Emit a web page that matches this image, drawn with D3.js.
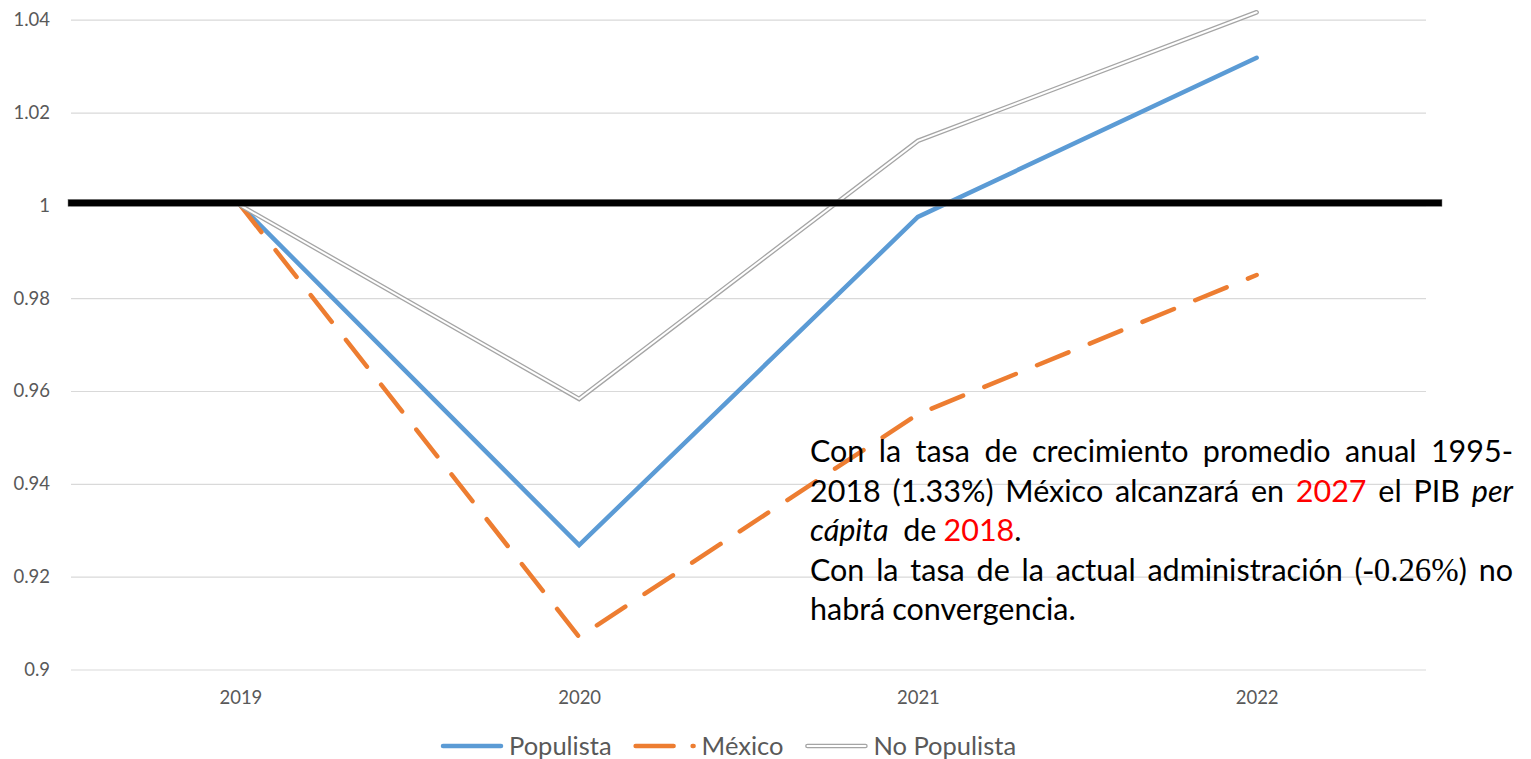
<!DOCTYPE html>
<html>
<head>
<meta charset="utf-8">
<script src="https://cdn.jsdelivr.net/npm/d3@7"></script>
<style>
  html, body { margin: 0; padding: 0; background: #fff; }
  svg { display: block; }
</style>
</head>
<body>
<svg id="chart" width="1531" height="759"></svg>
<script>
// PIB per cápita relativo a 2019 (índice, 2019 = 1)
const years = ["2019", "2020", "2021", "2022"];
const populista = [1, 0.9268, 0.9975, 1.0318];
const mexico = [1, 0.9070, 0.9550, 0.9850];
const noPopulista = [1, 0.9583, 1.0139, 1.0416];
const yTicks = [0.9, 0.92, 0.94, 0.96, 0.98, 1, 1.02, 1.04];
const yTickLabels = ["0.9", "0.92", "0.94", "0.96", "0.98", "1", "1.02", "1.04"];
const referenceLevel = 1;

const legendItems = [
  { name: "Populista", key: "pop" },
  { name: "México", key: "mex" },
  { name: "No Populista", key: "nopop" }
];

const colors = { pop: "#5B9BD5", mex: "#ED7D31", nopop: "#A5A5A5" };
const FONT = "Lato, 'Open Sans', sans-serif";

const svg = d3.select("#chart");
const plot = { left: 71, right: 1426, top: 19.7, bottom: 669.5 };

const x = d3.scalePoint().domain(years).range([plot.left, plot.right]).padding(0.5);
const y = d3.scaleLinear().domain([0.9, 1.04]).range([plot.bottom, plot.top]);

// Horizontal gridlines and value labels
const yAxis = svg.append("g")
  .attr("transform", `translate(${plot.left},0)`)
  .call(d3.axisLeft(y)
    .tickValues(yTicks)
    .tickFormat((d, i) => yTickLabels[i])
    .tickSize(-(plot.right - plot.left))
    .tickPadding(21));
yAxis.select(".domain").remove();
yAxis.selectAll(".tick line").attr("stroke", "#D9D9D9").attr("stroke-width", 1.2);
yAxis.selectAll(".tick text")
  .attr("fill", "#595959")
  .style("font-family", FONT)
  .style("font-size", "18.5px");

// Category labels
const xAxis = svg.append("g")
  .attr("transform", `translate(0,${plot.bottom})`)
  .call(d3.axisBottom(x).tickSize(0).tickPadding(21.5));
xAxis.select(".domain").remove();
xAxis.selectAll(".tick text")
  .attr("fill", "#595959")
  .style("font-family", FONT)
  .style("font-size", "18.5px");

const line = d3.line().x((d, i) => x(years[i])).y(d => y(d));

// Populista
svg.append("path")
  .attr("d", line(populista))
  .attr("fill", "none")
  .attr("stroke", colors.pop)
  .attr("stroke-width", 4.5)
  .attr("stroke-linecap", "round")
  .attr("stroke-linejoin", "miter");

// México (long dash)
svg.append("path")
  .attr("d", line(mexico))
  .attr("fill", "none")
  .attr("stroke", colors.mex)
  .attr("stroke-width", 4.5)
  .attr("stroke-linecap", "round")
  .attr("stroke-linejoin", "round")
  .attr("stroke-dasharray", "34,23");

// No Populista (double line)
function doubleLine(sel, d) {
  sel.append("path").attr("d", d).attr("fill", "none")
    .attr("stroke", colors.nopop).attr("stroke-width", 4.6)
    .attr("stroke-linejoin", "miter").attr("stroke-linecap", "round");
  sel.append("path").attr("d", d).attr("fill", "none")
    .attr("stroke", "#fff").attr("stroke-width", 2)
    .attr("stroke-linejoin", "miter").attr("stroke-linecap", "round");
}
doubleLine(svg.append("g"), line(noPopulista));

// Reference level at 1
svg.append("rect")
  .attr("x", plot.left - 3)
  .attr("y", y(referenceLevel) - 6)
  .attr("width", plot.right - plot.left + 19)
  .attr("height", 7)
  .attr("fill", "#000")
  .attr("stroke", "#7f7f7f")
  .attr("stroke-width", 0.5);

// Legend
const legend = svg.append("g").attr("transform", "translate(0,746)");
let lx = 441;
legendItems.forEach(item => {
  const g = legend.append("g");
  const x0 = lx, x1 = lx + 62;
  if (item.key === "pop") {
    g.append("line").attr("x1", x0 + 2).attr("x2", x1 - 2)
      .attr("stroke", colors.pop).attr("stroke-width", 4.5).attr("stroke-linecap", "round");
  } else if (item.key === "mex") {
    g.append("line").attr("x1", x0 + 2).attr("x2", x1 - 2)
      .attr("stroke", colors.mex).attr("stroke-width", 4.5).attr("stroke-linecap", "round")
      .attr("stroke-dasharray", "38,19");
  } else {
    doubleLine(g, `M${x0 + 2},0H${x1 - 2}`);
  }
  const t = g.append("text")
    .attr("x", x1 + 6)
    .attr("y", 0)
    .attr("dy", "0.34em")
    .attr("fill", "#595959")
    .style("font-family", FONT)
    .style("font-size", "25.5px")
    .text(item.name);
  lx = x1 + 6 + t.node().getComputedTextLength() + 22;
});

// Annotation: justified paragraph, one entry per line
const R = "#FF0000";
const noteLines = [
  { justify: true, words: [
    [{ t: "Con" }], [{ t: "la" }], [{ t: "tasa" }], [{ t: "de" }], [{ t: "crecimiento" }],
    [{ t: "promedio" }], [{ t: "anual" }], [{ t: "1995-" }]
  ]},
  { justify: true, words: [
    [{ t: "2018" }], [{ t: "(1.33%)" }], [{ t: "México" }], [{ t: "alcanzará" }], [{ t: "en" }],
    [{ t: "2027", c: R }], [{ t: "el" }], [{ t: "PIB" }], [{ t: "per", i: true }]
  ]},
  { justify: false, words: [
    [{ t: "cápita", i: true }], [{ t: "\u00a0de" }], [{ t: "2018", c: R }, { t: "." }]
  ]},
  { justify: true, words: [
    [{ t: "Con" }], [{ t: "la" }], [{ t: "tasa" }], [{ t: "de" }], [{ t: "la" }], [{ t: "actual" }],
    [{ t: "administración" }], [{ t: "(" }, { t: "-0.26%", serif: true }, { t: ")" }], [{ t: "no" }]
  ]},
  { justify: false, words: [
    [{ t: "habrá" }], [{ t: "convergencia." }]
  ]}
];

const note = { left: 810, right: 1513, firstBaseline: 462, lineStep: 39.5, size: 30.5 };
const noteG = svg.append("g")
  .style("font-family", "Lato, 'Open Sans', sans-serif")
  .style("font-size", note.size + "px")
  .attr("fill", "#000");

noteLines.forEach((ln, li) => {
  const yb = note.firstBaseline + li * note.lineStep;
  const nodes = ln.words.map(parts => {
    const t = noteG.append("text").attr("y", yb);
    parts.forEach(p => {
      const ts = t.append("tspan").text(p.t);
      if (p.c) ts.attr("fill", p.c);
      if (p.i) ts.style("font-style", "italic");
      if (p.serif) ts.style("font-family", "'Liberation Serif', 'DejaVu Serif', serif").style("font-size", (note.size * 1.08) + "px");
    });
    return t;
  });
  const widths = nodes.map(n => n.node().getComputedTextLength());
  const total = d3.sum(widths);
  const space = ln.justify
    ? (note.right - note.left - total) / (nodes.length - 1)
    : note.size * 0.23;
  let cx = note.left;
  nodes.forEach((n, i) => {
    n.attr("x", cx);
    cx += widths[i] + space;
  });
});
</script>
</body>
</html>
